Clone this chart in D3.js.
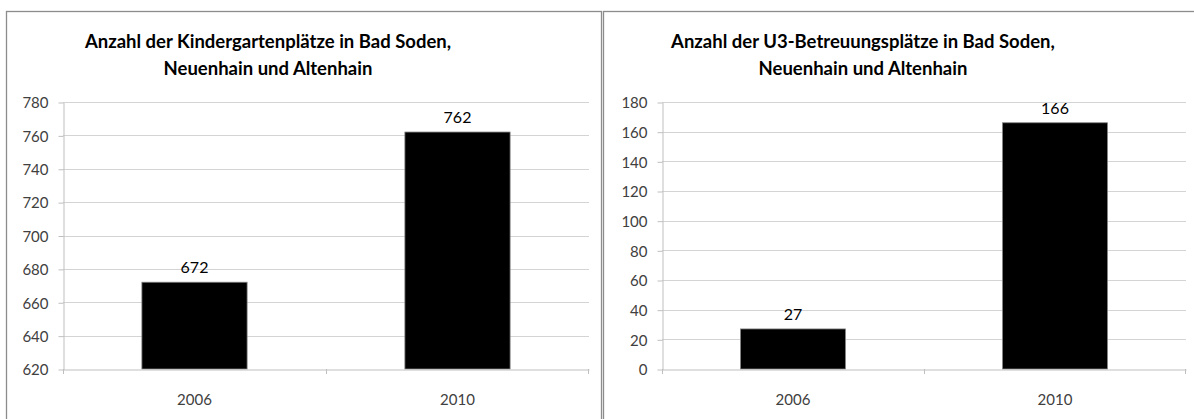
<!DOCTYPE html>
<html>
<head>
<meta charset="utf-8">
<script src="https://d3js.org/d3.v7.min.js"></script>
<style>
  body { margin: 0; background: #fff; }
  text { font-family: Lato, "Open Sans", sans-serif; }
</style>
</head>
<body>
<svg id="chart" width="1194" height="419"></svg>
<script>
// data
var categories = ["2006", "2010"];
var kitaValues = [672, 762];
var u3Values = [27, 166];
var kitaTicks = [620, 640, 660, 680, 700, 720, 740, 760, 780];
var u3Ticks = [0, 20, 40, 60, 80, 100, 120, 140, 160, 180];
var kitaTitle = ["Anzahl der Kindergartenplätze in Bad Soden,", "Neuenhain und Altenhain"];
var u3Title = ["Anzahl der U3-Betreuungsplätze in Bad Soden,", "Neuenhain und Altenhain"];

var svg = d3.select("#chart");

function panel(opts) {
    var g = svg.append("g");
    // frame
    g.append("rect")
        .attr("x", opts.frame[0] + 0.5).attr("y", 11.5)
        .attr("width", opts.frame[1] - opts.frame[0]).attr("height", 420)
        .attr("fill", "none").attr("stroke", "#8c8c8c").attr("stroke-width", 1.3);

    // title
    g.append("text")
        .attr("x", opts.titleX).attr("y", 48)
        .attr("text-anchor", "middle")
        .style("font-size", "18.5px").style("font-weight", "bold").style("fill", "#000")
        .selectAll("tspan").data(opts.title).enter().append("tspan")
        .attr("x", opts.titleX)
        .attr("dy", (d, i) => i ? 27 : 0)
        .text(d => d);

    var x = d3.scaleBand().domain(categories).range([opts.left, opts.right]).paddingInner(0).paddingOuter(0);
    var y = d3.scaleLinear().domain([opts.ticks[0], opts.ticks[opts.ticks.length - 1]]).range([369, 102]);

    // gridlines
    g.append("g").selectAll("line").data(opts.ticks.slice(1)).enter().append("line")
        .attr("x1", opts.left).attr("x2", opts.right)
        .attr("y1", d => Math.round(y(d)) + 0.5).attr("y2", d => Math.round(y(d)) + 0.5)
        .attr("stroke", "#d4d4d4");

    // y axis
    var yAxis = g.append("g")
        .attr("transform", "translate(" + (opts.left + 0.5) + ",0.5)")
        .call(d3.axisLeft(y).tickValues(opts.ticks).tickSize(5).tickPadding(10).tickSizeOuter(0));
    yAxis.select(".domain").attr("stroke", "#bfbfbf");
    yAxis.selectAll(".tick line").attr("stroke", "#bfbfbf");
    yAxis.selectAll(".tick text").style("font-size", "15px").style("fill", "#404040").attr("dy", "0.35em");

    // bars
    var bw = x.bandwidth() * 0.4;
    g.append("g").selectAll("rect").data(opts.values).enter().append("rect")
        .attr("x", (d, i) => x(categories[i]) + (x.bandwidth() - bw) / 2)
        .attr("y", d => y(d))
        .attr("width", bw)
        .attr("height", d => y(opts.ticks[0]) - y(d))
        .attr("fill", "#000").attr("stroke", "#7f7f7f").attr("stroke-width", 0.8);

    // value labels
    g.append("g").selectAll("text").data(opts.values).enter().append("text")
        .attr("x", (d, i) => x(categories[i]) + x.bandwidth() / 2)
        .attr("y", d => y(d) - 9)
        .attr("text-anchor", "middle")
        .style("font-size", "16px").style("fill", "#000")
        .text(d => d);

    // x axis
    var xAxis = g.append("g")
        .attr("transform", "translate(0," + (y(opts.ticks[0]) + 0.5) + ")")
        .call(d3.axisBottom(x).tickSize(0).tickPadding(25));
    xAxis.select(".domain").attr("stroke", "#bfbfbf");
    xAxis.selectAll(".tick text").style("font-size", "15px").style("fill", "#404040");
    g.append("g").selectAll("line").data(categories.concat(["end"])).enter().append("line")
        .attr("x1", (d, i) => i < categories.length ? Math.round(x(d)) + 0.5 : opts.right - 0.5)
        .attr("x2", (d, i) => i < categories.length ? Math.round(x(d)) + 0.5 : opts.right - 0.5)
        .attr("y1", y(opts.ticks[0])).attr("y2", y(opts.ticks[0]) + 5)
        .attr("stroke", "#bfbfbf");
}

panel({ frame: [6, 601], left: 63, right: 589, ticks: kitaTicks, values: kitaValues, title: kitaTitle, titleX: 268 });
panel({ frame: [603, 1200], left: 662, right: 1186, ticks: u3Ticks, values: u3Values, title: u3Title, titleX: 863 });
</script>
</body>
</html>
